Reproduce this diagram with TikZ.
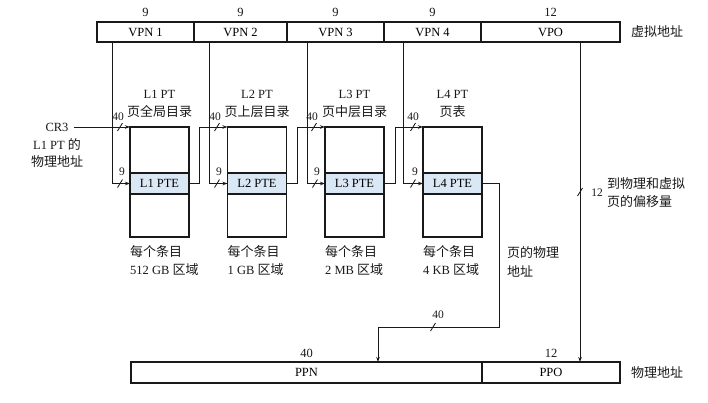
\documentclass[tikz,border=0pt]{standalone}
\usepackage{fontspec}
\setmainfont{Liberation Serif}
\newfontfamily\cjk{Noto Sans CJK SC}[Scale=1.04]
\newcommand{\zh}[1]{{\cjk #1}}
\usetikzlibrary{arrows.meta}
\definecolor{ptefill}{RGB}{218,232,246}
\definecolor{ink}{RGB}{25,25,25}
\begin{document}
\begin{tikzpicture}[x=1pt,y=-1pt,
  font=\fontsize{12.5}{14}\selectfont,
  field/.style={draw=ink, line width=1.2pt, minimum height=20pt, inner sep=0pt, outer sep=0pt, anchor=north west},
  tablebox/.style={draw=ink, line width=1.3pt, minimum width=59pt, minimum height=110pt, inner sep=0pt, outer sep=0pt, anchor=north west},
  pterow/.style={draw=ink, line width=1.3pt, fill=ptefill, minimum width=59pt, minimum height=21pt, inner sep=0pt, outer sep=0pt, anchor=north west},
  conn/.style={draw=ink, line width=0.85pt},
  arr/.style={conn, -{Stealth[length=5pt,width=3.5pt]}},
  lbl/.style={inner sep=0pt, text=ink},
  small/.style={lbl, font=\fontsize{11.5}{13}\selectfont},
  slash/.pic={\draw[ink, line width=0.85pt] (-2.5,4) -- (2.5,-4);}
]
\useasboundingbox (0,0) rectangle (708,402);
\fill[white] (0,0) rectangle (708,402);

% virtual address
\node[field, minimum width=97pt] (vpn1) at (97,22) {VPN 1};
\node[field, minimum width=93pt] (vpn2) at (194,22) {VPN 2};
\node[field, minimum width=97pt] (vpn3) at (287,22) {VPN 3};
\node[field, minimum width=97pt] (vpn4) at (384,22) {VPN 4};
\node[field, minimum width=139pt] (vpo) at (481,22) {VPO};
\node[lbl] (w1) at (145.5,12) {9};
\node[lbl] (w2) at (240.5,12) {9};
\node[lbl] (w3) at (335.5,12) {9};
\node[lbl] (w4) at (432.5,12) {9};
\node[lbl] (w5) at (550.5,12) {12};
\node[lbl] (va) at (657,32) {\zh{虚拟地址}};

% physical address
\node[field, minimum width=351pt, minimum height=21pt] (ppn) at (131,362) {PPN};
\node[field, minimum width=138pt, minimum height=21pt] (ppo) at (482,362) {PPO};
\node[lbl] (pw1) at (306.5,353) {40};
\node[lbl] (pw2) at (551,353) {12};
\node[lbl] (pa) at (657,373) {\zh{物理地址}};

% page tables
\node[tablebox] (l1) at (130,127) {};
\node[tablebox] (l2) at (227.5,127) {};
\node[tablebox] (l3) at (325,127) {};
\node[tablebox] (l4) at (423,127) {};
\node[pterow] (l1pte) at (130,173) {L1 PTE};
\node[pterow] (l2pte) at (227.5,173) {L2 PTE};
\node[pterow] (l3pte) at (325,173) {L3 PTE};
\node[pterow] (l4pte) at (423,173) {L4 PTE};

\node[lbl] (t1a) at (159.5,94) {L1 PT};
\node[lbl] (t1b) at (159.5,112) {\zh{页全局目录}};
\node[lbl] (t2a) at (257,94) {L2 PT};
\node[lbl] (t2b) at (257,112) {\zh{页上层目录}};
\node[lbl] (t3a) at (354.5,94) {L3 PT};
\node[lbl] (t3b) at (354.5,112) {\zh{页中层目录}};
\node[lbl] (t4a) at (452.5,94) {L4 PT};
\node[lbl] (t4b) at (452.5,112) {\zh{页表}};

\node[lbl, anchor=west] (e1a) at (130,252) {\zh{每个条目}};
\node[lbl, anchor=west] (e1b) at (130,270) {512 GB \zh{区域}};
\node[lbl, anchor=west] (e2a) at (227.5,252) {\zh{每个条目}};
\node[lbl, anchor=west] (e2b) at (227.5,270) {1 GB \zh{区域}};
\node[lbl, anchor=west] (e3a) at (325,252) {\zh{每个条目}};
\node[lbl, anchor=west] (e3b) at (325,270) {2 MB \zh{区域}};
\node[lbl, anchor=west] (e4a) at (423,252) {\zh{每个条目}};
\node[lbl, anchor=west] (e4b) at (423,270) {4 KB \zh{区域}};

% CR3
\node[lbl] (cr3) at (57,127) {CR3};
\node[lbl] (cr3b) at (57,144) {L1 PT \zh{的}};
\node[lbl] (cr3c) at (57,162) {\zh{物理地址}};

% side texts
\node[lbl, anchor=west] (pp1) at (507,253) {\zh{页的物理}};
\node[lbl, anchor=west] (pp2) at (507,271) {\zh{地址}};
\node[lbl, anchor=west] (of1) at (607,184) {\zh{到物理和虚拟}};
\node[lbl, anchor=west] (of2) at (607,202) {\zh{页的偏移量}};

% coordinates
\coordinate (v1) at (112,42);
\coordinate (v2) at (209,42);
\coordinate (v3) at (307,42);
\coordinate (v4) at (403,42);
\coordinate (vo) at (580,42);
\coordinate (po) at (580,362);
\coordinate (c4) at (499,327);
\coordinate (pin) at (378,362);

% connectors
\draw[arr] ([xshift=5pt]cr3.east) -- (l1.north west);
\draw[arr] (v1) |- (l1pte.west);
\draw[arr] (l1pte.east) -- ++(10,0) |- (l2.north west);
\draw[arr] (v2) |- (l2pte.west);
\draw[arr] (l2pte.east) -- ++(11,0) |- (l3.north west);
\draw[arr] (v3) |- (l3pte.west);
\draw[arr] (l3pte.east) -- ++(11,0) |- (l4.north west);
\draw[arr] (v4) |- (l4pte.west);
\draw[arr] (l4pte.east) -| (c4) -| (pin);
\draw[arr] (vo) -- (po);

% width marks
\pic at (120,127) {slash};
\pic at (217,127) {slash};
\pic at (314,127) {slash};
\pic at (413,127) {slash};
\pic at (120,183.5) {slash};
\pic at (217,183.5) {slash};
\pic at (315,183.5) {slash};
\pic at (413,183.5) {slash};
\pic at (433,327) {slash};
\pic at (580,192) {slash};
\node[small] (s1) at (118,117) {40};
\node[small] (s2) at (215,117) {40};
\node[small] (s3) at (312,117) {40};
\node[small] (s4) at (413,117) {40};
\node[small] (n1) at (122,172) {9};
\node[small] (n2) at (219,172) {9};
\node[small] (n3) at (317,172) {9};
\node[small] (n4) at (415,172) {9};
\node[small] (s5) at (438,315) {40};
\node[small] (s6) at (597,193) {12};
\end{tikzpicture}
\end{document}
